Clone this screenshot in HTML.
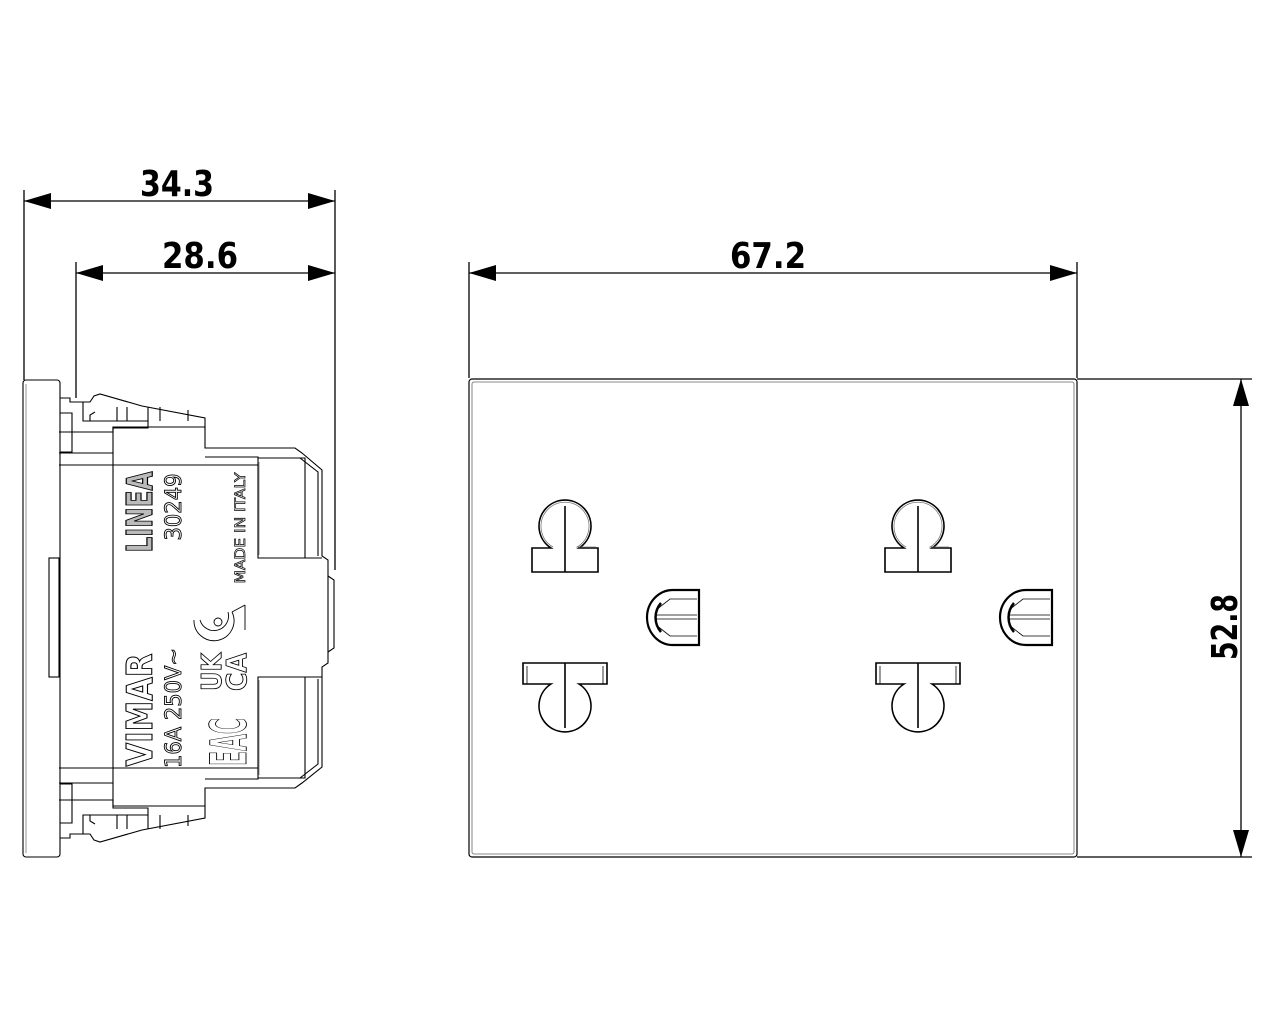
<!DOCTYPE html>
<html><head><meta charset="utf-8"><style>
html,body{margin:0;padding:0;background:#fff;}
svg{display:block;}
.dim{font-family:"DejaVu Sans","Liberation Sans",sans-serif;font-size:36px;fill:#000;font-weight:bold;}
</style></head><body>
<svg width="1280" height="1024" viewBox="0 0 1280 1024" xmlns="http://www.w3.org/2000/svg">
<g stroke="#000" stroke-width="1.3" fill="none">
<line x1="24" y1="190" x2="24" y2="380"/>
<line x1="335" y1="190" x2="335" y2="570"/>
<line x1="76" y1="262" x2="76" y2="398"/>
<line x1="469" y1="262" x2="469" y2="378"/>
<line x1="1077" y1="262" x2="1077" y2="378"/>
<line x1="1077" y1="379" x2="1252" y2="379"/>
<line x1="1077" y1="857" x2="1252" y2="857"/>
<line x1="24" y1="201" x2="335" y2="201"/>
<line x1="76" y1="273" x2="335" y2="273"/>
<line x1="469" y1="273" x2="1077" y2="273"/>
<line x1="1241" y1="379" x2="1241" y2="857"/>
</g>
<g fill="#000">
<polygon points="24,201 51,193 51,209"/><polygon points="335,201 308,193 308,209"/>
<polygon points="76,273 103,265 103,281"/><polygon points="335,273 308,265 308,281"/>
<polygon points="469,273 496,265 496,281"/><polygon points="1077,273 1050,265 1050,281"/>
<polygon points="1241,379 1233,406 1249,406"/><polygon points="1241,857 1233,830 1249,830"/>
</g>
<text class="dim" x="177" y="196" text-anchor="middle" textLength="74" lengthAdjust="spacingAndGlyphs">34.3</text>
<text class="dim" x="200" y="268" text-anchor="middle" textLength="76" lengthAdjust="spacingAndGlyphs">28.6</text>
<text class="dim" x="768" y="268" text-anchor="middle" textLength="76" lengthAdjust="spacingAndGlyphs">67.2</text>
<text class="dim" transform="translate(1237,627) rotate(-90)" text-anchor="middle" textLength="66" lengthAdjust="spacingAndGlyphs">52.8</text>

<g stroke="#000" fill="none" stroke-width="1.2">
<rect x="469" y="379" width="608" height="478" rx="3"/>
<rect x="472" y="382" width="602" height="472" rx="2" stroke="#666" stroke-width="0.8"/>
</g>

<g id="sock" stroke="#000" stroke-width="1.6" fill="none">
<path d="M551,548 A26,26 0 1 1 579,548 L598,548 L598,572 L532,572 L532,548 Z"/>
<path d="M553,547 A24,24 0 1 1 577,547 L596,547" stroke="#777" stroke-width="0.8"/>
<line x1="565" y1="506" x2="565" y2="572"/>
<path d="M523,663 L607,663 L607,684 L579,684 A26,26 0 1 1 551,684 L523,684 Z"/>
<line x1="565" y1="663" x2="565" y2="728"/>
<line x1="527" y1="666" x2="527" y2="684" stroke-width="0.8"/>
<line x1="603" y1="666" x2="603" y2="684" stroke-width="0.8"/>
<path d="M699,590 L673,590 A26,27.5 0 0 0 673,645 L699,645 Z" stroke-width="2.2"/>
<path d="M697,599 L670,599 L656,610 M697,636 L670,636 L656,625 M697,615 L655,615 M697,619 L655,619" stroke-width="0.8"/>
<path d="M661,603 A22,22 0 0 0 661,632" stroke-width="2.5"/>
</g>
<use href="#sock" transform="translate(353,0)"/>

<g stroke="#000" stroke-width="1.1" fill="none">
<rect x="23" y="380" width="37" height="477" rx="3"/>
<line x1="26" y1="384" x2="26" y2="853" stroke="#666" stroke-width="0.7"/>
<rect x="49" y="558" width="10" height="119"/>
<path d="M60,398 L70,398 L70,402 L90,402 L94,396 L100,394 L142,406 L205,418 L205,430"/>
<path d="M60,413 L72,413 L72,452 L60,452 M83,402 L83,421 L90,421 L90,415 L95,412"/>
<path d="M84,421 L148,421 L148,428 L113,428 L113,430"/>
<path d="M117,407 L117,421 M127,407 L127,421 M148,407 L148,421 M160,407 L160,421 M188,410 L188,421"/>
<path d="M60,838 L70,838 L70,834 L90,834 L94,840 L100,842 L142,830 L205,818 L205,806"/>
<path d="M60,823 L72,823 L72,784 L60,784 M83,834 L83,815 L90,815 L90,821 L95,824"/>
<path d="M84,815 L148,815 L148,808 L113,808 L113,806"/>
<path d="M117,829 L117,815 M127,829 L127,815 M148,829 L148,815 M160,829 L160,815 M188,826 L188,815"/>
<path d="M59,432 L113,432 L113,427 L205,427 L205,448 L295,448 L302,453 L322,470 L322,556 L328,560 L328,663 L322,667 L322,767 L302,783 L295,788 L205,788 L205,806 L113,806 L113,800 L59,800"/>
<line x1="59" y1="453" x2="113" y2="453"/>
<line x1="59" y1="783" x2="113" y2="783"/>
<line x1="59" y1="465" x2="258" y2="465"/>
<line x1="59" y1="768" x2="258" y2="768"/>
<line x1="113" y1="427" x2="113" y2="806"/>
<path d="M205,457 L258,457 L258,558 L322,558 M205,779 L258,779 L258,677 L322,677"/>
<path d="M258,458 L305,458 L305,558 M258,778 L305,778 L305,677 M300,458 L318,472 L318,556 M300,778 L318,764 L318,679"/>
<path d="M328,576 L334,580 L334,648 L328,652"/>
<path d="M259,462 L259,555 M259,680 L259,775" stroke="#666" stroke-width="0.7"/>
</g>
<g font-family="'DejaVu Sans','Liberation Sans',sans-serif">
<text transform="translate(152,512) rotate(-90)" text-anchor="middle" font-size="36" font-weight="bold" fill="#bbb" stroke="#000" stroke-width="1.2" textLength="81" lengthAdjust="spacingAndGlyphs">LINEA</text>
<text transform="translate(181,507) rotate(-90)" text-anchor="middle" font-size="22" fill="#fff" stroke="#000" stroke-width="0.9" textLength="67" lengthAdjust="spacingAndGlyphs">30249</text>
<text transform="translate(245,528) rotate(-90)" text-anchor="middle" font-size="14" fill="#fff" stroke="#000" stroke-width="0.7" textLength="111" lengthAdjust="spacingAndGlyphs">MADE IN ITALY</text>
<text transform="translate(152,710) rotate(-90)" text-anchor="middle" font-size="36" font-weight="bold" fill="#fff" stroke="#000" stroke-width="1.1" textLength="113" lengthAdjust="spacingAndGlyphs">VIMAR</text>
<text transform="translate(181,708) rotate(-90)" text-anchor="middle" font-size="22" fill="#fff" stroke="#000" stroke-width="0.9" textLength="120" lengthAdjust="spacingAndGlyphs">16A 250V~</text>
<text transform="translate(221,672) rotate(-90)" text-anchor="middle" font-size="28" font-weight="bold" fill="#fff" stroke="#000" stroke-width="0.9" textLength="38" lengthAdjust="spacingAndGlyphs">UK</text>
<text transform="translate(246,672) rotate(-90)" text-anchor="middle" font-size="28" font-weight="bold" fill="#fff" stroke="#000" stroke-width="0.9" textLength="38" lengthAdjust="spacingAndGlyphs">CA</text>
<text transform="translate(246,742) rotate(-90)" text-anchor="middle" font-size="50" font-weight="bold" fill="#fff" stroke="#000" stroke-width="0.9" textLength="48" lengthAdjust="spacingAndGlyphs">EAC</text>
</g>
<g stroke="#000" stroke-width="0.9" fill="none">
<path d="M194,620 A20,20 0 1 0 232,612"/>
<path d="M200,620 A14,14 0 1 0 228,612"/>
<circle cx="218" cy="622" r="4"/>
<path d="M232,612 L245,605 M245,605 L245,630"/>
</g>
</svg>
</body></html>
